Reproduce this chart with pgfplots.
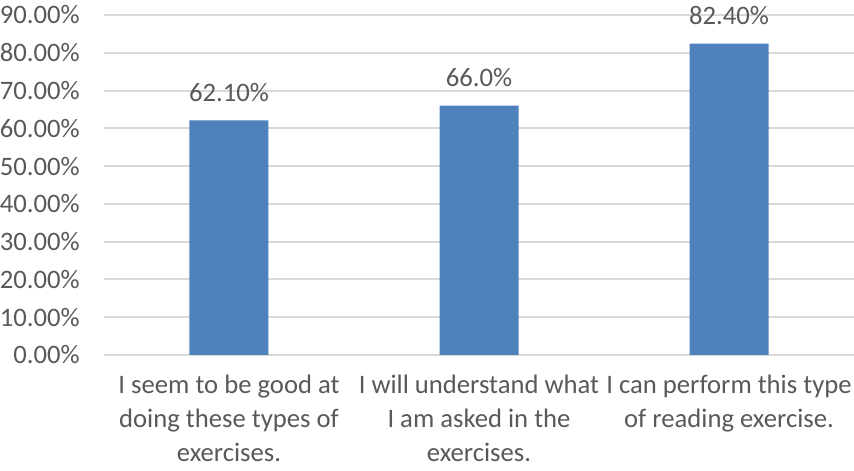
\documentclass[border=0pt]{standalone}
\usepackage{pgfplots}
\pgfplotsset{compat=1.18}
\usepackage{fontspec}
\setmainfont{Carlito}
\definecolor{txt}{HTML}{595959}
\definecolor{grd}{HTML}{D9D9D9}
\definecolor{bar}{HTML}{4F81BD}
\begin{document}
\begin{tikzpicture}
\begin{axis}[
    at={(0,0)}, anchor=south west,
    scale only axis,
    width=562.5pt, height=255pt,
    ymin=0, ymax=90, ytick={0,10,...,90},
    xmin=-0.5, xmax=2.5,
    xtick={0,1,2},
    xticklabels={
        {I seem to be good at\\doing these types of\\exercises.},
        {I will understand what\\I am asked in the\\exercises.},
        {I can perform this type\\of reading exercise.}},
    font=\fontsize{20pt}{25.5pt}\selectfont,
    /pgf/number format/assume math mode=true,
    yticklabel={\pgfmathprintnumber[fixed,fixed zerofill,precision=2]{\tick}\%},
    yticklabel style={anchor=east, inner sep=0pt, xshift=-18pt, text=txt},
    xticklabel style={align=center, anchor=north, inner sep=0pt, yshift=-15pt, text=txt},
    major tick length=0pt,
    axis line style={draw=none},
    ymajorgrids,
    grid style={grd, line width=1.5pt},
    ybar, bar width=59.25pt,
    point meta=explicit symbolic,
    nodes near coords={\pgfplotspointmeta},
    nodes near coords style={text=txt, anchor=south, yshift=10.5pt},
    clip=false,
]
\addplot[fill=bar, draw=none] coordinates {
    (0,62.1) [62.10\%]
    (1,66.0) [66.0\%]
    (2,82.4) [82.40\%]
};
\end{axis}
\pgfresetboundingbox
\useasboundingbox (-78pt,-87pt) rectangle (562.5pt,266.25pt);
\end{tikzpicture}
\end{document}
